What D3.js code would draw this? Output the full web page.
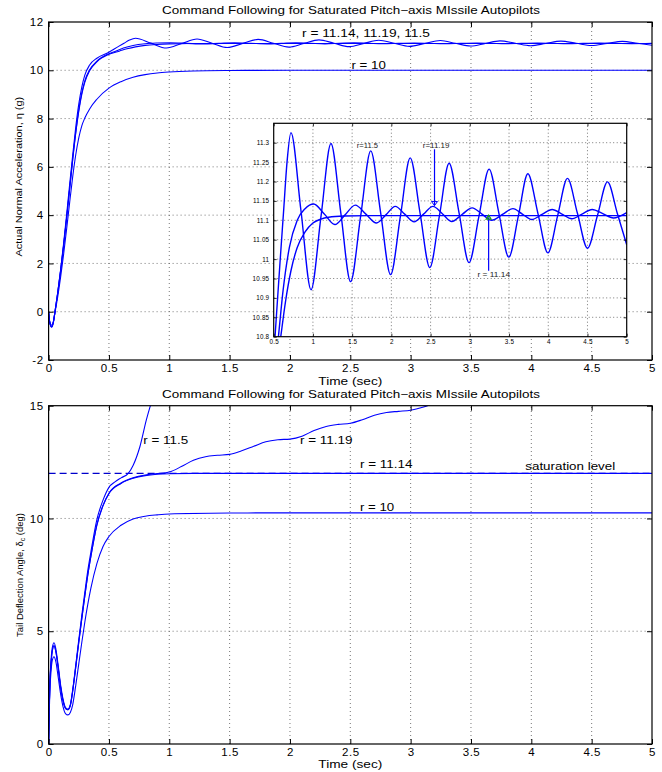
<!DOCTYPE html>
<html><head><meta charset="utf-8">
<script src="https://cdn.jsdelivr.net/npm/d3@7"></script>
<style>
html,body{margin:0;padding:0;background:#fff;}
svg{display:block;}
</style></head><body>
<svg id="chart" width="662" height="772"></svg>
<script>
// ---------------- DATA ----------------
const titleText = "Command Following for Saturated Pitch\u2212axis MIssile Autopilots";
const xLabelText = "Time (sec)";
const xTicks = [0, 0.5, 1, 1.5, 2, 2.5, 3, 3.5, 4, 4.5, 5];
const accTicks = [-2, 0, 2, 4, 6, 8, 10, 12];
const defTicks = [0, 5, 10, 15];
const insetXTicks = [0.5, 1, 1.5, 2, 2.5, 3, 3.5, 4, 4.5, 5];
const insetYTicks = [10.8, 10.85, 10.9, 10.95, 11, 11.05, 11.1, 11.15, 11.2, 11.25, 11.3];
const seriesNames = ["r = 10", "r = 11.14", "r = 11.19", "r = 11.5"];

// Actual normal acceleration (g) vs time (s)
const accT_r10 = [0,0.01,0.025,0.04,0.05,0.075,0.1,0.125,0.15,0.175,0.2,0.225,0.25,0.275,0.3,0.34,0.4,0.5,0.6,0.7,0.8,0.9,1.0,1.2,1.5,2.0,5.0];
const accV_r10 = [0,-0.42,-0.56,-0.4,-0.12,0.6,1.45,2.4,3.45,4.55,5.6,6.5,7.2,7.7,8.02,8.4,8.8,9.26,9.53,9.71,9.82,9.89,9.93,9.97,9.99,10.0,10.0];

const accT_r1114 = [0,0.01,0.025,0.04,0.05,0.075,0.1,0.125,0.15,0.175,0.2,0.225,0.25,0.275,0.3,0.34,0.4,0.5,0.59,0.65,0.72,0.8,0.9,1.0,1.1,1.2,1.4,1.7,5.0];
const accV_r1114 = [0,-0.45,-0.62,-0.42,-0.1,0.75,1.7,2.75,3.9,5.1,6.3,7.4,8.3,9.0,9.5,9.98,10.35,10.66,10.8,10.89,10.97,11.03,11.07,11.093,11.103,11.108,11.111,11.112,11.112];

const accT_r1119 = [0,0.01,0.025,0.04,0.05,0.075,0.1,0.125,0.15,0.175,0.2,0.225,0.25,0.275,0.3,0.34,0.4,0.5,
  0.56,0.62,0.7,0.8,0.9,1.01,
  1.145,1.28,1.41,1.54,1.675,1.81,1.93,2.05,2.17,2.29,
  2.41,2.53,2.65,2.77,2.9,3.03,3.155,3.28,3.415,3.55,
  3.67,3.79,3.92,4.05,4.175,4.3,4.43,4.56,4.695,4.83,5.0];
const accV_r1119 = [0,-0.45,-0.62,-0.42,-0.1,0.76,1.72,2.78,3.93,5.14,6.34,7.45,8.36,9.06,9.56,10.02,10.38,10.69,
  10.8,10.92,11.03,11.1,11.13,11.142,
  11.116,11.089,11.114,11.139,11.116,11.093,11.114,11.136,11.116,11.096,
  11.116,11.136,11.117,11.097,11.115,11.132,11.116,11.1,11.115,11.13,
  11.116,11.102,11.115,11.128,11.116,11.104,11.116,11.128,11.117,11.106,11.12];

const accT_r115 = [0,0.01,0.025,0.04,0.05,0.075,0.1,0.125,0.15,0.175,0.2,0.225,0.25,0.275,0.3,0.34,0.4,0.5,
  0.53,0.58,0.625,0.67,0.72,
  0.848,0.976,1.103,1.23,1.355,1.48,1.608,1.737,1.863,1.99,
  2.115,2.24,2.365,2.49,2.613,2.736,2.863,2.99,3.118,3.246,
  3.371,3.497,3.62,3.74,3.868,3.995,4.12,4.245,4.372,4.5,
  4.628,4.755,4.88,5.0];
const accV_r115 = [0,-0.46,-0.64,-0.43,-0.1,0.78,1.76,2.85,4.05,5.3,6.5,7.65,8.6,9.3,9.8,10.22,10.5,10.75,
  10.84,10.99,11.12,11.25,11.326,
  11.124,10.921,11.11,11.298,11.12,10.942,11.11,11.279,11.12,10.96,
  11.11,11.261,11.12,10.978,11.112,11.247,11.119,10.991,11.112,11.232,
  11.118,11.005,11.112,11.22,11.118,11.016,11.112,11.208,11.118,11.028,
  11.113,11.199,11.118,11.037];

// Tail deflection angle (deg) vs time (s)
const defT_r10 = [0,0.005,0.01,0.02,0.03,0.045,0.06,0.08,0.1,0.12,0.14,0.16,0.18,0.2,0.225,0.25,0.275,0.3,0.325,0.35,0.4,0.45,0.5,0.6,0.7,0.8,0.9,1.0,1.5,2.0,5.0];
const defV_r10 = [0,1.3,2.3,3.2,3.7,3.87,3.65,2.95,2.2,1.65,1.35,1.29,1.4,1.75,2.6,3.55,4.5,5.4,6.2,6.9,8.0,8.75,9.2,9.7,9.98,10.1,10.16,10.2,10.24,10.25,10.25];

const defT_r1114 = [0,0.005,0.01,0.02,0.03,0.045,0.06,0.08,0.1,0.12,0.14,0.16,0.18,0.2,0.225,0.25,0.275,0.3,0.325,0.35,0.4,0.45,0.5,0.6,0.7,0.8,0.9,1.0,1.2,1.5,5.0];
const defV_r1114 = [0,1.45,2.55,3.55,4.1,4.35,4.1,3.35,2.5,1.9,1.58,1.52,1.7,2.35,3.4,4.5,5.55,6.55,7.5,8.3,9.7,10.55,11.1,11.55,11.78,11.9,11.96,11.985,11.998,12.0,12.0];

const defT_r1119 = [0,0.005,0.01,0.02,0.03,0.045,0.06,0.08,0.1,0.12,0.14,0.16,0.18,0.2,0.225,0.25,0.275,0.3,0.325,0.35,0.4,0.45,0.5,0.6,0.7,0.8,0.9,
  1.0,1.1,1.2,1.3,1.4,1.5,1.6,1.7,1.8,1.9,2.0,2.1,2.2,2.3,2.4,2.5,2.6,2.7,2.8,2.9,3.0,3.1,3.2];
const defV_r1119 = [0,1.46,2.56,3.56,4.11,4.37,4.11,3.36,2.51,1.91,1.58,1.52,1.71,2.37,3.42,4.52,5.57,6.57,7.52,8.32,9.72,10.57,11.12,11.57,11.8,11.93,11.99,
  12.06,12.3,12.58,12.74,12.8,12.84,13.0,13.2,13.4,13.49,13.52,13.65,13.9,14.08,14.17,14.22,14.38,14.58,14.7,14.75,14.8,14.93,15.12];

const defT_r115 = [0,0.005,0.01,0.02,0.03,0.045,0.06,0.08,0.1,0.12,0.14,0.16,0.18,0.2,0.225,0.25,0.275,0.3,0.325,0.35,0.4,0.45,0.5,0.55,0.6,0.66,0.7,0.757,0.81,0.86];
const defV_r115 = [0,1.5,2.65,3.7,4.25,4.49,4.22,3.45,2.6,1.98,1.62,1.55,1.75,2.42,3.5,4.62,5.7,6.72,7.7,8.5,9.95,10.8,11.38,11.62,11.8,12.0,12.35,13.19,14.37,15.3];

const saturationLevel = 12;

// ---------------- LAYOUT ----------------
const FONT = '"Liberation Sans", Arial, Helvetica, sans-serif';
const BLUE = "#0000ff";
const svg = d3.select("#chart").attr("font-family", FONT);

const xTop = d3.scaleLinear([0, 5], [48.6, 652]);
const yTop = d3.scaleLinear([-2, 12], [360, 22]);
const xBot = d3.scaleLinear([0, 5], [48.6, 652]);
const yBot = d3.scaleLinear([0, 15], [744, 405.7]);
const xIn = d3.scaleLinear([0.5, 5], [273.7, 626.7]);
const yIn = d3.scaleLinear([10.8, 11.35], [336.7, 123.3]);

const fmt = d => String(+d.toFixed(2));

// place a text at (x,y) with given font size, stretched horizontally to a target width
function label(parent, str, x, y, fs, width, anchor, rotate) {
  const g = parent.append("g");
  const t = g.append("text").attr("font-size", fs).attr("fill", "#000")
    .attr("text-anchor", anchor || "start").attr("dominant-baseline", "central");
  if (typeof str === "function") str(t); else t.text(str);
  const w = t.node().getComputedTextLength();
  const sx = w > 0 ? width / w : 1;
  g.attr("transform", `translate(${x},${y})` + (rotate ? ` rotate(${rotate})` : "") + ` scale(${sx},1)`);
  return t;
}

function drawGrid(g, x, y, xt, yt, dash) {
  const [x0, x1] = x.range(), [y0, y1] = y.range();
  const grid = g.append("g").attr("stroke", "#555").attr("stroke-width", 0.8)
    .attr("stroke-dasharray", dash).attr("fill", "none");
  grid.selectAll("line.gx").data(xt.filter(d => x(d) > x0 + 1 && x(d) < x1 - 1)).join("line")
    .attr("class", "gx").attr("x1", d => x(d)).attr("x2", d => x(d)).attr("y1", y0).attr("y2", y1);
  grid.selectAll("line.gy").data(yt.filter(d => y(d) < y0 - 1 && y(d) > y1 + 1)).join("line")
    .attr("class", "gy").attr("y1", d => y(d)).attr("y2", d => y(d)).attr("x1", x0).attr("x2", x1);
}

function drawFrame(g, x, y, xt, yt, o) {
  const [x0, x1] = x.range(), [y0, y1] = y.range();
  const style = (sel) => {
    sel.select(".domain").remove();
    sel.attr("font-family", FONT).attr("font-size", o.fs);
    sel.selectAll(".tick line").attr("stroke", "#000").attr("stroke-width", o.tw);
    sel.selectAll(".tick text").attr("fill", "#000").attr("letter-spacing", o.ls);
  };
  g.append("g").attr("transform", `translate(0,${y0})`)
    .call(d3.axisBottom(x).tickValues(xt).tickFormat(fmt).tickSizeInner(-o.ts).tickSizeOuter(0).tickPadding(o.px)).call(style);
  g.append("g").attr("transform", `translate(0,${y1})`)
    .call(d3.axisTop(x).tickValues(xt).tickFormat(() => "").tickSizeInner(-o.ts).tickSizeOuter(0)).call(style);
  g.append("g").attr("transform", `translate(${x0},0)`)
    .call(d3.axisLeft(y).tickValues(yt).tickFormat(fmt).tickSizeInner(-o.ts).tickSizeOuter(0).tickPadding(o.py)).call(style);
  g.append("g").attr("transform", `translate(${x1},0)`)
    .call(d3.axisRight(y).tickValues(yt).tickFormat(() => "").tickSizeInner(-o.ts).tickSizeOuter(0)).call(style);
  g.append("rect").attr("x", x0).attr("y", y1).attr("width", x1 - x0).attr("height", y0 - y1)
    .attr("fill", "none").attr("stroke", "#000").attr("stroke-width", o.fw);
}

function addClip(id, x, y) {
  const [x0, x1] = x.range(), [y0, y1] = y.range();
  svg.append("clipPath").attr("id", id).append("rect")
    .attr("x", x0).attr("y", y1).attr("width", x1 - x0).attr("height", y0 - y1);
}

function drawSeries(g, x, y, pairs, width) {
  const line = d3.line().x(d => x(d[0])).y(d => y(d[1])).curve(d3.curveMonotoneX);
  g.selectAll("path.s").data(pairs).join("path").attr("class", "s")
    .attr("d", d => line(d3.zip(d.t, d.v)))
    .attr("fill", "none").attr("stroke", BLUE).attr("stroke-width", width).attr("stroke-linejoin", "round");
}

const accSeries = [
  {name: seriesNames[0], t: accT_r10, v: accV_r10},
  {name: seriesNames[1], t: accT_r1114, v: accV_r1114},
  {name: seriesNames[2], t: accT_r1119, v: accV_r1119},
  {name: seriesNames[3], t: accT_r115, v: accV_r115}
];
const defSeries = [
  {name: seriesNames[0], t: defT_r10, v: defV_r10},
  {name: seriesNames[1], t: defT_r1114, v: defV_r1114},
  {name: seriesNames[2], t: defT_r1119, v: defV_r1119},
  {name: seriesNames[3], t: defT_r115, v: defV_r115}
];

const mainOpts = {fs: 11.5, ls: 0.5, ts: 5, tw: 1, px: 4, py: 5, fw: 1.2};

// ---------------- TOP PANEL ----------------
addClip("clipTop", xTop, yTop);
const gTop = svg.append("g");
drawGrid(gTop, xTop, yTop, xTicks, accTicks, "1,3");
drawSeries(gTop.append("g").attr("clip-path", "url(#clipTop)"), xTop, yTop, accSeries, 1.1);
drawFrame(gTop, xTop, yTop, xTicks, accTicks, mainOpts);

label(svg, titleText, 351, 11, 10.5, 378, "middle");
label(svg, xLabelText, 350.3, 381.5, 11, 64, "middle");
label(svg, "Actual Normal Acceleration, \u03b7 (g)", 18.5, 176.7, 9.6, 160, "middle", -90);

const topLabels = [
  {text: "r = 11.14, 11.19, 11.5", t: 2.10, v: 11.53, w: 128},
  {text: "r = 10", t: 2.51, v: 10.19, w: 34.3}
];
topLabels.forEach(d => label(svg, d.text, xTop(d.t), yTop(d.v), 11, d.w, "start"));

// ---------------- INSET ----------------
addClip("clipIn", xIn, yIn);
const gIn = svg.append("g");
gIn.append("rect").attr("x", xIn.range()[0]).attr("y", yIn.range()[1])
  .attr("width", xIn.range()[1] - xIn.range()[0]).attr("height", yIn.range()[0] - yIn.range()[1]).attr("fill", "#fff");
drawGrid(gIn, xIn, yIn, insetXTicks, insetYTicks, "1,2.5");
drawSeries(gIn.append("g").attr("clip-path", "url(#clipIn)"), xIn, yIn, accSeries.slice(1), 1.4);
drawFrame(gIn, xIn, yIn, insetXTicks, insetYTicks, {fs: 6.3, ls: 0.2, ts: 3, tw: 0.8, px: 2.5, py: 4.4, fw: 1.2});

const insetNotes = [
  {text: "r=11.5", t: 1.558, v: 11.292, w: 21.3, anchor: "start"},
  {text: "r=11.19", t: 2.40, v: 11.292, w: 26.7, anchor: "start"},
  {text: "r = 11.14", t: 3.305, v: 10.96, w: 32.7, anchor: "middle"}
];
insetNotes.forEach(d => label(svg, d.text, xIn(d.t), yIn(d.v), 6.3, d.w, d.anchor).attr("fill", "#222"));

const insetArrows = [
  {t: 2.55, v0: 11.283, v1: 11.138, head: "down"},
  {t: 3.24, v0: 10.97, v1: 11.108, head: "up"}
];
insetArrows.forEach(a => {
  const X = xIn(a.t), Y0 = yIn(a.v0), Y1 = yIn(a.v1);
  svg.append("line").attr("x1", X).attr("x2", X).attr("y1", Y0).attr("y2", Y1)
    .attr("stroke", BLUE).attr("stroke-width", 1.2);
  if (a.head === "down") {
    svg.append("path").attr("d", `M${X - 3},${Y1 - 4}L${X + 3},${Y1 - 4}L${X},${Y1}Z`)
      .attr("fill", "none").attr("stroke", BLUE).attr("stroke-width", 1);
  } else {
    svg.append("path").attr("d", `M${X - 2.5},${Y1 + 2}L${X + 2.5},${Y1 + 2}L${X},${Y1 - 2}Z`)
      .attr("fill", "none").attr("stroke", "#1a9a1a").attr("stroke-width", 1.2);
  }
});

// ---------------- BOTTOM PANEL ----------------
addClip("clipBot", xBot, yBot);
const gBot = svg.append("g");
drawGrid(gBot, xBot, yBot, xTicks, defTicks, "1,3");
const gBotLines = gBot.append("g").attr("clip-path", "url(#clipBot)");
gBotLines.append("line").attr("x1", xBot(0)).attr("x2", xBot(5))
  .attr("y1", yBot(saturationLevel)).attr("y2", yBot(saturationLevel))
  .attr("stroke", "#0000cc").attr("stroke-width", 1.1).attr("stroke-dasharray", "7,4");
drawSeries(gBotLines, xBot, yBot, defSeries, 1.1);
drawFrame(gBot, xBot, yBot, xTicks, defTicks, mainOpts);

label(svg, titleText, 351, 395, 10.5, 378, "middle");
label(svg, xLabelText, 350.3, 764, 11, 64, "middle");
label(svg, t => {
  t.append("tspan").text("Tail Deflection Angle, \u03b4");
  t.append("tspan").attr("baseline-shift", "sub").attr("font-size", "0.75em").text("c");
  t.append("tspan").text(" (deg)");
}, 18.5, 575, 9.6, 124, "middle", -90);

const botLabels = [
  {text: "r = 11.5", t: 0.785, v: 13.48, w: 45},
  {text: "r = 11.19", t: 2.083, v: 13.48, w: 52.7},
  {text: "r = 11.14", t: 2.58, v: 12.4, w: 52.7},
  {text: "saturation level", t: 3.95, v: 12.3, w: 90},
  {text: "r = 10", t: 2.58, v: 10.48, w: 34.3}
];
botLabels.forEach(d => label(svg, d.text, xBot(d.t), yBot(d.v), 11, d.w, "start"));
</script>
</body></html>
